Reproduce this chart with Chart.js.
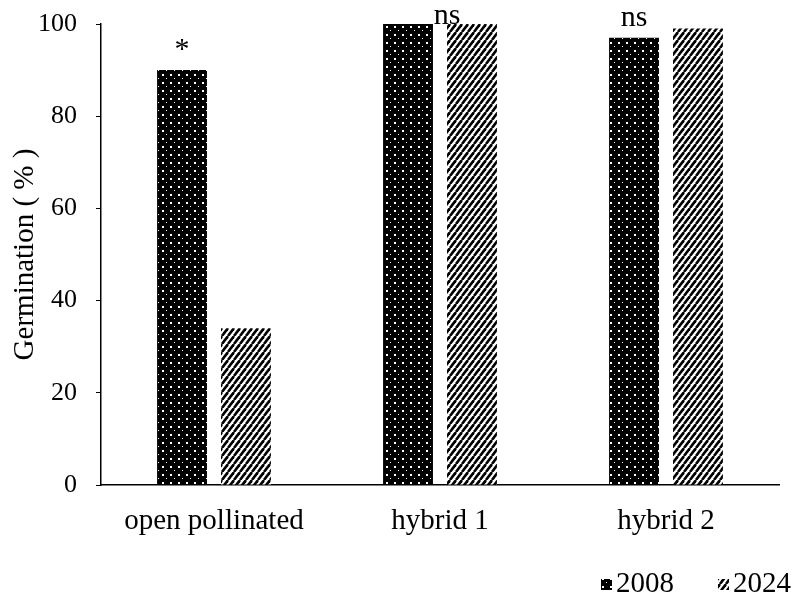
<!DOCTYPE html>
<html>
<head>
<meta charset="utf-8">
<script src="https://cdn.jsdelivr.net/npm/chart.js@4.4.1/dist/chart.umd.min.js"></script>
<style>
  html, body { margin: 0; padding: 0; background: #fff; }
  #wrap { width: 793px; height: 605px; position: relative; }
</style>
</head>
<body>
<div id="wrap"><canvas id="germChart"></canvas></div>
<script>
// --- data ---
const categories = ['open pollinated', 'hybrid 1', 'hybrid 2'];
const germ2008 = [90, 100, 97];
const germ2024 = [34, 100, 99];
const signif = ['*', 'ns', 'ns'];
const yTicks = [0, 20, 40, 60, 80, 100];

const FONT = 'Liberation Serif';

// dotted black fill for 2008
function dotPattern() {
    const c = document.createElement('canvas');
    c.width = 8; c.height = 8;
    const g = c.getContext('2d');
    g.fillStyle = '#000';
    g.fillRect(0, 0, 8, 8);
    g.fillStyle = '#fff';
    g.fillRect(2, 2, 2, 2);
    g.fillRect(6, 6, 1, 1);
    return g.createPattern(c, 'repeat');
}

// "/" stripes for 2024
function stripePattern() {
    const c = document.createElement('canvas');
    c.width = 6; c.height = 8;
    const g = c.getContext('2d');
    g.fillStyle = '#fff';
    g.fillRect(0, 0, 6, 8);
    g.strokeStyle = '#000';
    g.lineWidth = 2.6;
    for (let k = -1; k <= 1; k++) {
        g.beginPath();
        g.moveTo(k * 6, 8);
        g.lineTo(k * 6 + 6, 0);
        g.stroke();
    }
    return g.createPattern(c, 'repeat');
}

// significance marks over each group
const signifPlugin = {
    id: 'signif',
    afterDatasetsDraw(chart) {
        const ctx = chart.ctx;
        const m0 = chart.getDatasetMeta(0).data;
        const m1 = chart.getDatasetMeta(1).data;
        ctx.save();
        ctx.fillStyle = '#000';
        ctx.textAlign = 'center';
        ctx.textBaseline = 'alphabetic';
        ctx.font = '30px "' + FONT + '"';
        signif.forEach((s, i) => {
            let x = m0[i].x;
            let yy = m0[i].y - 12;
            if (i === 1) {
                x = (m0[i].x + m1[i].x) / 2 + 7;
                yy = Math.min(m0[i].y, m1[i].y);
            }
            ctx.fillText(s, x, yy);
        });
        ctx.restore();
    }
};

// legend in the bottom right corner, small pattern squares
const legendPlugin = {
    id: 'cornerLegend',
    afterDraw(chart) {
        const ctx = chart.ctx;
        const sets = chart.data.datasets;
        ctx.save();
        ctx.font = '29px "' + FONT + '"';
        ctx.textBaseline = 'middle';
        let x = 791;
        const yc = 584;
        for (let i = sets.length - 1; i >= 0; i--) {
            const w = ctx.measureText(sets[i].label).width;
            x -= w;
            ctx.fillStyle = '#000';
            ctx.fillText(sets[i].label, x, yc);
            x -= 15;
            ctx.fillStyle = sets[i].backgroundColor;
            ctx.fillRect(x, yc - 5, 11, 11);
            x -= 44;
        }
        ctx.restore();
    }
};

const chart = new Chart(document.getElementById('germChart'), {
    type: 'bar',
    data: {
        labels: categories,
        datasets: [
            { label: '2008', data: germ2008, backgroundColor: dotPattern(), borderWidth: 0,
              barPercentage: 0.78, categoryPercentage: 0.566 },
            { label: '2024', data: germ2024, backgroundColor: stripePattern(), borderWidth: 0,
              barPercentage: 0.78, categoryPercentage: 0.566 }
        ]
    },
    options: {
        responsive: true,
        maintainAspectRatio: false,
        animation: false,
        layout: { padding: { top: 24, right: 14, left: 0, bottom: 0 } },
        plugins: {
            legend: { display: false },
            tooltip: { enabled: false }
        },
        scales: {
            x: {
                grid: { display: false, drawTicks: false },
                border: { color: '#000', width: 1.5 },
                ticks: { color: '#000', padding: 19, font: { family: FONT, size: 29 } },
                afterFit: (s) => { s.height = 120; }
            },
            y: {
                min: 0, max: 100,
                afterBuildTicks: (s) => { s.ticks = yTicks.map(v => ({ value: v })); },
                grid: { drawOnChartArea: false, tickLength: 5, color: '#000', tickColor: '#000' },
                border: { color: '#000', width: 1.5 },
                ticks: { color: '#000', padding: 19, font: { family: FONT, size: 26 } },
                title: { display: true, text: 'Germination ( % )', color: '#000',
                         padding: { top: 8, bottom: 0 },
                         font: { family: FONT, size: 29 } },
                afterFit: (s) => { s.width = 101; s.paddingTop = 0; s.paddingBottom = 0; }
            }
        }
    },
    plugins: [signifPlugin, legendPlugin]
});
</script>
</body>
</html>
